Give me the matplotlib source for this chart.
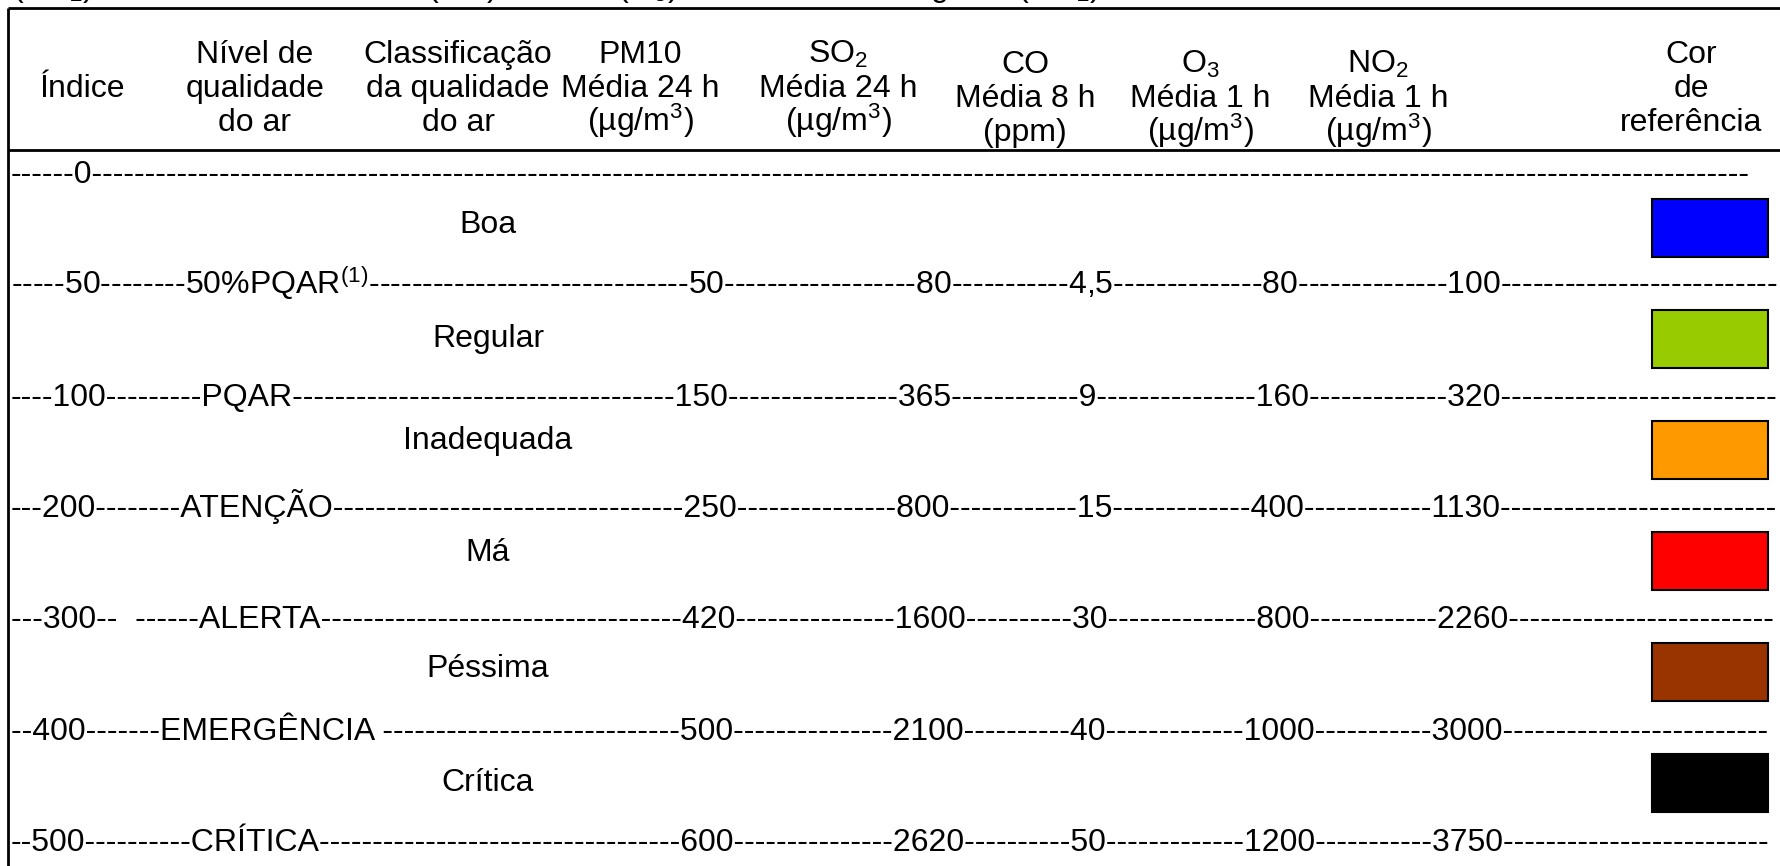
import matplotlib
matplotlib.use('Agg')
import matplotlib.pyplot as plt
from matplotlib.patches import Rectangle

# --- dados da tabela (índice de qualidade do ar) ---
indices = [0, 50, 100, 200, 300, 400, 500]
levels = ['', '50%PQAR$^{(1)}$', 'PQAR', 'ATENÇÃO', 'ALERTA', 'EMERGÊNCIA', 'CRÍTICA']
classes = ['Boa', 'Regular', 'Inadequada', 'Má', 'Péssima', 'Crítica']
pm10 = ['50', '150', '250', '420', '500', '600']
so2 = ['80', '365', '800', '1600', '2100', '2620']
co = ['4,5', '9', '15', '30', '40', '50']
o3 = ['80', '160', '400', '800', '1000', '1200']
no2 = ['100', '320', '1130', '2260', '3000', '3750']
ref_colors = ['#0000FF', '#99CC00', '#FF9900', '#FF0000', '#993300', '#000000']

headers = [
    ['Índice'],
    ['Nível de', 'qualidade', 'do ar'],
    ['Classificação', 'da qualidade', 'do ar'],
    ['PM10', 'Média 24 h', '(µg/m$^3$)'],
    ['SO$_2$', 'Média 24 h', '(µg/m$^3$)'],
    ['CO', 'Média 8 h', '(ppm)'],
    ['O$_3$', 'Média 1 h', '(µg/m$^3$)'],
    ['NO$_2$', 'Média 1 h', '(µg/m$^3$)'],
    ['Cor', 'de', 'referência'],
]
top_note = '(SO$_2$), monóxido de carbono (CO), ozônio (O$_3$) e dióxido de nitrogênio (NO$_2$)'

# --- layout (pixels, origem no topo) ---
W, H = 1780, 866
FS = 23
head_x = [82, 255, 458, 640, 838, 1025, 1200, 1378, 1691]
head_drop = [0, 0, 0, 0, 0, 10, 10, 10, 0]
data_x = [706, 928, 1092, 1282, 1472]
row_y0, row_dy = 172, 111.3
lead = [6, 5, 4, 3, 3, 2, 2]
mid = ['', '-' * 8, '-' * 9, '-' * 8, '--  ------', '-' * 7, '-' * 10]
after = ['', '', '', '', '', ' ', '']
class_y = [222, 336, 438, 550, 666, 780]
x0 = 11
row_end = [1760, 1778, 1778, 1778, 1778, 1778, 1778]
sep_y = 150

plt.rcParams['font.family'] = ['Liberation Sans', 'DejaVu Sans']
plt.rcParams['mathtext.fontset'] = 'custom'
plt.rcParams['mathtext.rm'] = 'Liberation Sans'
plt.rcParams['mathtext.default'] = 'regular'

fig = plt.figure(figsize=(W / 100, H / 100), dpi=100)
ax = fig.add_axes([0, 0, 1, 1])
ax.set_xlim(0, W)
ax.set_ylim(H, 0)
ax.axis('off')
rend = fig.canvas.get_renderer()


def width(s):
    t = ax.text(0, 0, s, fontsize=FS)
    w = t.get_window_extent(rend).width
    t.remove()
    return w


dash = (width('-' * 41) - width('-')) / 40

# linha cortada no topo (só aparece a parte de baixo)
ax.text(12, -4, top_note, fontsize=FS, va='baseline')

# moldura
ax.plot([8, 8], [8, H], color='k', lw=2, solid_capstyle='butt')
ax.plot([8, W], [8, 8], color='k', lw=2, solid_capstyle='butt')
ax.plot([8, W], [sep_y, sep_y], color='k', lw=2, solid_capstyle='butt')

# cabeçalho
for cx, lines, drop in zip(head_x, headers, head_drop):
    if len(lines) == 1:
        ax.text(cx, 97, lines[0], fontsize=FS, ha='center', va='baseline')
        continue
    for k, ln in enumerate(lines):
        ax.text(cx, 63 + drop + 34 * k, ln, fontsize=FS, ha='center', va='baseline')

# linhas tracejadas com os limites
for i, idx in enumerate(indices):
    s = '-' * lead[i] + str(idx)
    if levels[i]:
        s += mid[i] + levels[i] + after[i]
        vals = [pm10[i - 1], so2[i - 1], co[i - 1], o3[i - 1], no2[i - 1]]
        for v, cx in zip(vals, data_x):
            n = round((cx - width(v) / 2 - x0 - width(s + '-') + dash) / dash)
            s += '-' * max(n, 1) + v
    n = int((row_end[i] - x0 - width(s)) / dash)
    s += '-' * n
    ax.text(x0, row_y0 + row_dy * i + 11, s, fontsize=FS, va='baseline')

# classificação e cor de referência
for i, name in enumerate(classes):
    ax.text(488, class_y[i] + 11, name, fontsize=FS, ha='center', va='baseline')
    yc = 228 + 111 * i
    ax.add_patch(Rectangle((1652, yc - 29), 116, 58, facecolor=ref_colors[i],
                           edgecolor='k', lw=1.5))

fig.savefig('out.png', dpi=100)
